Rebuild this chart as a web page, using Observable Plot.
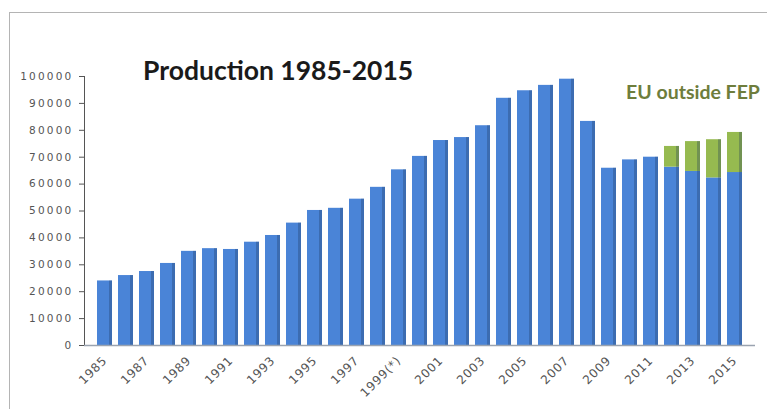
<!DOCTYPE html>
<html>
<head>
<meta charset="utf-8">
<script src="https://cdn.jsdelivr.net/npm/d3@7"></script>
<script src="https://cdn.jsdelivr.net/npm/@observablehq/plot@0.6"></script>
<style>
  html, body { margin: 0; padding: 0; background: #fff; overflow: hidden; }
  #wrap { position: relative; width: 767px; height: 409px; overflow: hidden; }
  #frame { position: absolute; left: 9px; top: 12px; width: 820px; height: 440px;
           border: 1.5px solid #b4b4b4; box-sizing: border-box; }
  #title { position: absolute; left: 143px; top: 54px; font: bold 26.5px Lato, "Open Sans", sans-serif;
           color: #1a1a1a; white-space: nowrap; }
  #note { position: absolute; left: 626px; top: 80px; font: bold 19.5px Lato, "Open Sans", sans-serif;
          color: #6e7d3c; white-space: nowrap; }
  #chart { position: absolute; left: 0; top: 0; }
  #chart svg g[aria-label="y-axis tick label"] text { letter-spacing: 2.2px; }
  #chart svg g[aria-label="text"] text { letter-spacing: 0.8px; }
</style>
</head>
<body>
<div id="wrap">
  <div id="frame"></div>
  <div id="chart"></div>
  <div id="title">Production 1985-2015</div>
  <div id="note">EU outside FEP</div>
</div>
<script>
// Category labels, one per year
const years = ["1985","1986","1987","1988","1989","1990","1991","1992","1993","1994",
  "1995","1996","1997","1998","1999(*)","2000","2001","2002","2003","2004",
  "2005","2006","2007","2008","2009","2010","2011","2012","2013","2014","2015"];

// Production inside FEP
const fepValues = [24000,26000,27500,30500,35000,36000,35700,38400,40900,45500,
  50200,51000,54400,58800,65300,70300,76200,77300,81700,91900,
  94700,96700,99000,83300,65900,69000,70000,66300,64700,62300,64300];

// EU production outside FEP (reported from 2012 on)
const outsideValues = [0,0,0,0,0,0,0,0,0,0,
  0,0,0,0,0,0,0,0,0,0,
  0,0,0,0,0,0,0,7700,11100,14200,14900];

const yTicks = [0,10000,20000,30000,40000,50000,60000,70000,80000,90000,100000];

// Every other year carries a label on the category axis
const xTickLabels = years.filter((d, i) => i % 2 === 0);

const seriesNames = ["FEP", "EU outside FEP"];
const rows = [];
years.forEach((y, i) => {
  rows.push({year: y, series: seriesNames[0], value: fepValues[i]});
  if (outsideValues[i] > 0) rows.push({year: y, series: seriesNames[1], value: outsideValues[i]});
});

const chart = Plot.plot({
  width: 767,
  height: 409,
  marginLeft: 84,
  marginRight: 12,
  marginTop: 76,
  marginBottom: 64,
  style: {fontFamily: "'DejaVu Sans', sans-serif", fontSize: "10.5px", color: "#555", background: "transparent"},
  x: {type: "band", domain: years, padding: 0.3, axis: null},
  y: {
    domain: [0, 100000], ticks: yTicks, label: null,
    tickSize: 5, tickPadding: 6, line: true, tickFormat: d => String(d)
  },
  color: {domain: seriesNames, range: ["#4a84d7", "#96ba50"]},
  marks: [
    Plot.barY(rows, {x: "year", y: "value", fill: "series", order: seriesNames}),
    // darker strip on the right side of each bar segment, for a little depth
    Plot.barY(rows, {x: "year", y: "value", fill: "#1d3558", fillOpacity: 0.3, insetLeft: 12}),
    Plot.ruleY([0], {stroke: "#9aa3b0", strokeWidth: 1.5}),
    Plot.text(xTickLabels, {
      x: d => d, frameAnchor: "bottom", dy: 13, dx: 0,
      rotate: -45, textAnchor: "end", lineAnchor: "middle",
      fill: "#555", fontSize: 12
    })
  ]
});
document.getElementById("chart").appendChild(chart);
</script>
</body>
</html>
